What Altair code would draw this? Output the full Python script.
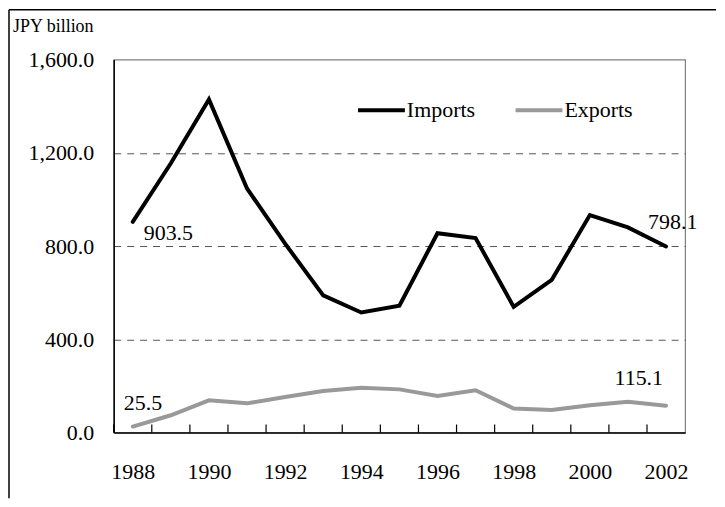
import altair as alt
import pandas as pd

years = list(range(1988, 2003))
imports = [903.5, 1155, 1429, 1047, 810, 588, 515, 544, 855, 834, 539, 655, 933, 880, 798.1]
exports = [25.5, 74, 138, 125, 152, 178, 192, 185, 157, 181, 103, 97, 117, 132, 115.1]
series_names = ["Imports", "Exports"]
series_colors = ["#000000", "#999999"]
y_ticks = [0, 400, 800, 1200, 1600]
x_label_years = [1988, 1990, 1992, 1994, 1996, 1998, 2000, 2002]
unit_label = "JPY billion"

df = pd.DataFrame({
    "year": years * 2,
    "value": imports + exports,
    "series": ["Imports"] * len(years) + ["Exports"] * len(years),
})

FONT = "Liberation Serif"
W, H = 573, 374

x_scale = alt.Scale(domain=[1987.5, 2002.5], nice=False, zero=False)
y_scale = alt.Scale(domain=[0, 1600], nice=False)

base = alt.Chart(df)

lines = base.mark_line(strokeWidth=4, strokeCap="round").encode(
    x=alt.X("year:Q", scale=x_scale,
            axis=alt.Axis(values=x_label_years, format="d", title=None, grid=False,
                          ticks=False, labelPadding=29, labelFontSize=22, labelFont=FONT,
                          labelColor="#000", domainColor="#000", domainWidth=1.5)),
    y=alt.Y("value:Q", scale=y_scale,
            axis=alt.Axis(values=y_ticks, format=",.1f", title=None, ticks=False,
                          labelPadding=20, labelFontSize=22, labelFont=FONT, labelColor="#000",
                          domainColor="#000", domainWidth=1.5,
                          grid=True, gridDash=[7, 6], gridColor="#555555", gridWidth=1,
                          gridOpacity={"condition": {"test": "datum.value == 1600 || datum.value == 0", "value": 0}, "value": 1})),
    color=alt.Color("series:N", sort=series_names,
                    scale=alt.Scale(domain=series_names, range=series_colors),
                    legend=alt.Legend(title=None, orient="none", direction="horizontal",
                                      legendX=243, legendY=25, padding=0,
                                      symbolType="stroke", symbolSize=2209, symbolStrokeWidth=4,
                                      labelFont=FONT, labelFontSize=22, labelColor="#000",
                                      labelOffset=0, columnPadding=32)),
)

ticks = base.transform_filter(alt.datum.series == "Imports").transform_calculate(
    edge="datum.year - 0.5"
).mark_rule(color="#000", strokeWidth=1.2).encode(
    x=alt.X("edge:Q", scale=x_scale),
    y=alt.value(H),
    y2=alt.value(H - 8),
)

def label(series, year, dx, dy, align):
    return base.transform_filter(
        (alt.datum.series == series) & (alt.datum.year == year)
    ).mark_text(font=FONT, fontSize=22, color="#000", align=align, baseline="alphabetic",
                dx=dx, dy=dy).encode(
        x=alt.X("year:Q", scale=x_scale),
        y=alt.Y("value:Q", scale=y_scale),
        text=alt.Text("value:Q", format=".1f"),
    )

labels = [
    label("Imports", 1988, 11, 18, "left"),
    label("Imports", 2002, -18, -18, "left"),
    label("Exports", 1988, -9, -17, "left"),
    label("Exports", 2002, -3, -21, "right"),
]

blank = alt.Chart(alt.Data(values=[{}]))
unit = blank.mark_text(font=FONT, fontSize=18, color="#000", align="left",
                       baseline="alphabetic").encode(
    x=alt.value(-101), y=alt.value(-28), text=alt.value(unit_label))
frame_left = blank.mark_rule(color="#000", strokeWidth=1.5).encode(
    x=alt.value(-105), y=alt.value(-50), y2=alt.value(440))
frame_top = blank.mark_rule(color="#000", strokeWidth=1.5).encode(
    x=alt.value(-105), x2=alt.value(604), y=alt.value(-50))

chart = alt.layer(frame_left, frame_top, unit, lines, ticks, *labels).properties(
    width=W, height=H, padding=0, background="white"
).configure_view(stroke="#808080", strokeWidth=1.2)

chart.save("out.html", embed_options={"renderer": "svg", "actions": False})
